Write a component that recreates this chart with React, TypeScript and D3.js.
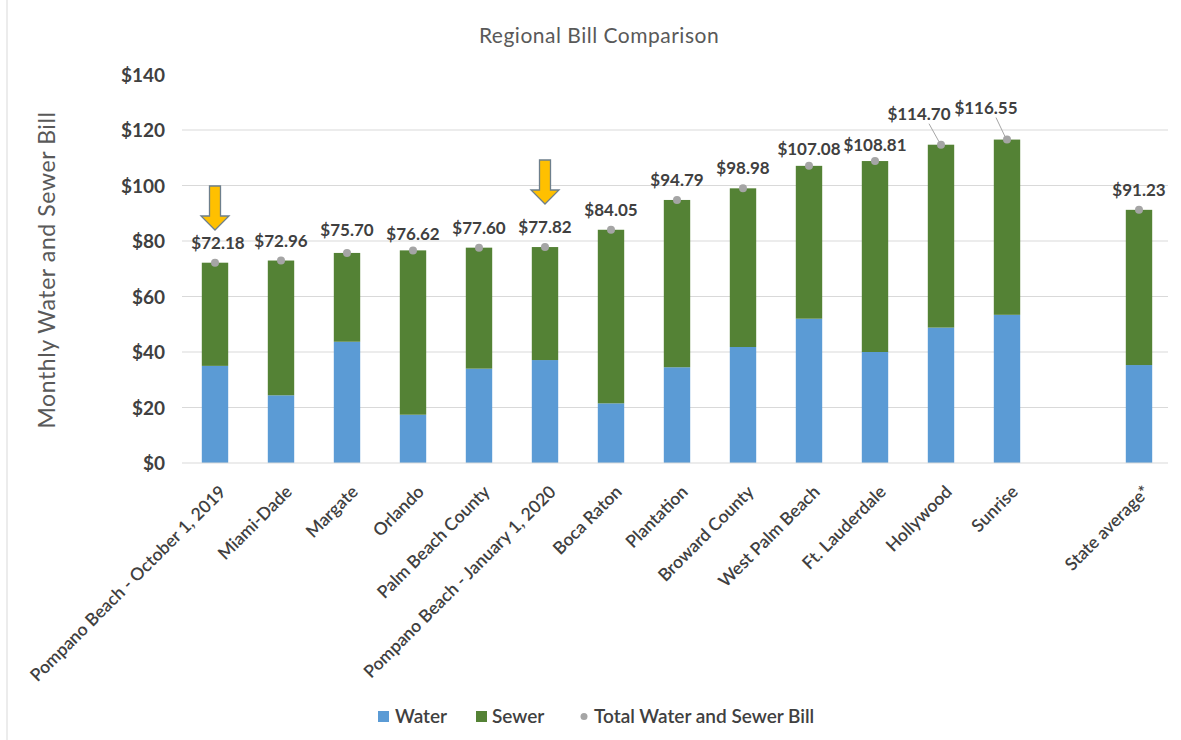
import React from "react";
import * as d3 from "d3";

const categories = [
  "Pompano Beach - October 1, 2019",
  "Miami-Dade",
  "Margate",
  "Orlando",
  "Palm Beach County",
  "Pompano Beach - January 1, 2020",
  "Boca Raton",
  "Plantation",
  "Broward County",
  "West Palm Beach",
  "Ft. Lauderdale",
  "Hollywood",
  "Sunrise",
  "",
  "State average*",
];

const totals: (number | null)[] = [72.18, 72.96, 75.7, 76.62, 77.6, 77.82, 84.05, 94.79, 98.98, 107.08, 108.81, 114.7, 116.55, null, 91.23];
const water: (number | null)[] = [35.0, 24.4, 43.7, 17.4, 34.0, 37.1, 21.5, 34.5, 41.8, 52.0, 40.0, 48.8, 53.4, null, 35.3];
const yTicks = [0, 20, 40, 60, 80, 100, 120, 140];
const arrowCategories = ["Pompano Beach - October 1, 2019", "Pompano Beach - January 1, 2020"];

// manual label nudges (layout only): [dx, dy extra]
const labelNudge: Record<string, [number, number]> = {
  "Hollywood": [-22, -11],
  "Sunrise": [-21, -12],
  "Orlando": [0, 4],
  "West Palm Beach": [0, 3],
  "Ft. Lauderdale": [0, 4],
  "Pompano Beach - October 1, 2019": [3, 0],
  "Margate": [0, -3],
};

const W = 1181, H = 740;
const FONT = "Lato, 'Open Sans', sans-serif";
const BLUE = "#5B9BD5", GREEN = "#548235", DOT = "#A5A5A5", TXT = "#404040";

export default function App() {
  const x = d3.scaleBand<string>().domain(categories.map((c, i) => c || `_${i}`)).range([182, 1172]).paddingInner(0.6).paddingOuter(0.3);
  const y = d3.scaleLinear().domain([0, 140]).range([463, 74.5]);
  const key = (i: number) => categories[i] || `_${i}`;
  const bw = x.bandwidth();
  const cx = (i: number) => (x(key(i)) as number) + bw / 2;

  const arrow = (c: string, topY: number, tipY: number) => {
    const i = categories.indexOf(c);
    const xc = cx(i);
    const headY = tipY - 14;
    const p = d3.path();
    p.moveTo(xc - 5.5, topY);
    p.lineTo(xc + 5.5, topY);
    p.lineTo(xc + 5.5, headY);
    p.lineTo(xc + 14, headY);
    p.lineTo(xc, tipY);
    p.lineTo(xc - 14, headY);
    p.lineTo(xc - 5.5, headY);
    p.closePath();
    return <path key={c} d={p.toString()} fill="#FFC000" stroke="#6E7F8C" strokeWidth={1.3} />;
  };

  return (
    <svg width={W} height={H} style={{ position: "absolute", left: 0, top: 0, background: "#fff" }} fontFamily={FONT}>
      <rect x={0} y={0} width={W} height={H} fill="#fff" />
      <line x1={7} x2={7} y1={0} y2={H} stroke="#d9d9d9" strokeWidth={1} />
      <text x={599} y={43} textAnchor="middle" fontSize={21} letterSpacing={0.5} fill="#595959">Regional Bill Comparison</text>
      <text transform={`translate(55,270) rotate(-90)`} textAnchor="middle" fontSize={23} letterSpacing={0.6} fill="#595959">Monthly Water and Sewer Bill</text>

      {yTicks.map((t) => (
        <g key={t}>
          {t > 0 && t < 140 && <line x1={182} x2={1168} y1={y(t)} y2={y(t)} stroke="#d9d9d9" strokeWidth={1} />}
          <text x={165} y={y(t) + 7} textAnchor="end" fontSize={19} fontWeight={700} fill={TXT}>{`$${t}`}</text>
        </g>
      ))}

      {categories.map((c, i) => {
        const tot = totals[i], w = water[i];
        if (tot == null || w == null) return null;
        const x0 = x(key(i)) as number;
        return (
          <g key={c}>
            <rect x={x0} width={bw} y={y(w)} height={y(0) - y(w)} fill={BLUE} />
            <rect x={x0} width={bw} y={y(tot)} height={y(w) - y(tot)} fill={GREEN} />
          </g>
        );
      })}
      <line x1={182} x2={1168} y1={y(0)} y2={y(0)} stroke="#d9d9d9" strokeWidth={1} />

      {categories.map((c, i) => {
        const tot = totals[i];
        if (tot == null) return null;
        const n = labelNudge[c] || [0, 0];
        const px = cx(i), py = y(tot);
        const lx = px + n[0], ly = py - 14 + n[1];
        const leader = Math.abs(n[0]) > 5;
        return (
          <g key={c}>
            {leader && <line x1={lx + 10} y1={ly + 4} x2={px - 2} y2={py - 3} stroke="#a6a6a6" strokeWidth={1} />}
            <circle cx={px} cy={py} r={4} fill={DOT} />
            <text x={lx} y={ly} textAnchor="middle" fontSize={17} fontWeight={700} fill={TXT}>{`$${tot.toFixed(2)}`}</text>
          </g>
        );
      })}

      {arrowCategories.map((c, k) => (k === 0 ? arrow(c, 186, 230) : arrow(c, 160, 204)))}

      {categories.map((c, i) =>
        c ? (
          <text key={c} transform={`translate(${cx(i) + 12},${493}) rotate(-45)`} textAnchor="end" fontSize={17.5} fontWeight={600} fill={TXT}>{c}</text>
        ) : null
      )}

      <g fontSize={19} fontWeight={600} fill={TXT}>
        <rect x={378} y={711} width={11} height={11} fill={BLUE} />
        <text x={395} y={723}>Water</text>
        <rect x={476} y={711} width={11} height={11} fill={GREEN} />
        <text x={492} y={723}>Sewer</text>
        <circle cx={584} cy={716.5} r={3.5} fill={DOT} />
        <text x={594} y={723}>Total Water and Sewer Bill</text>
      </g>
    </svg>
  );
}
